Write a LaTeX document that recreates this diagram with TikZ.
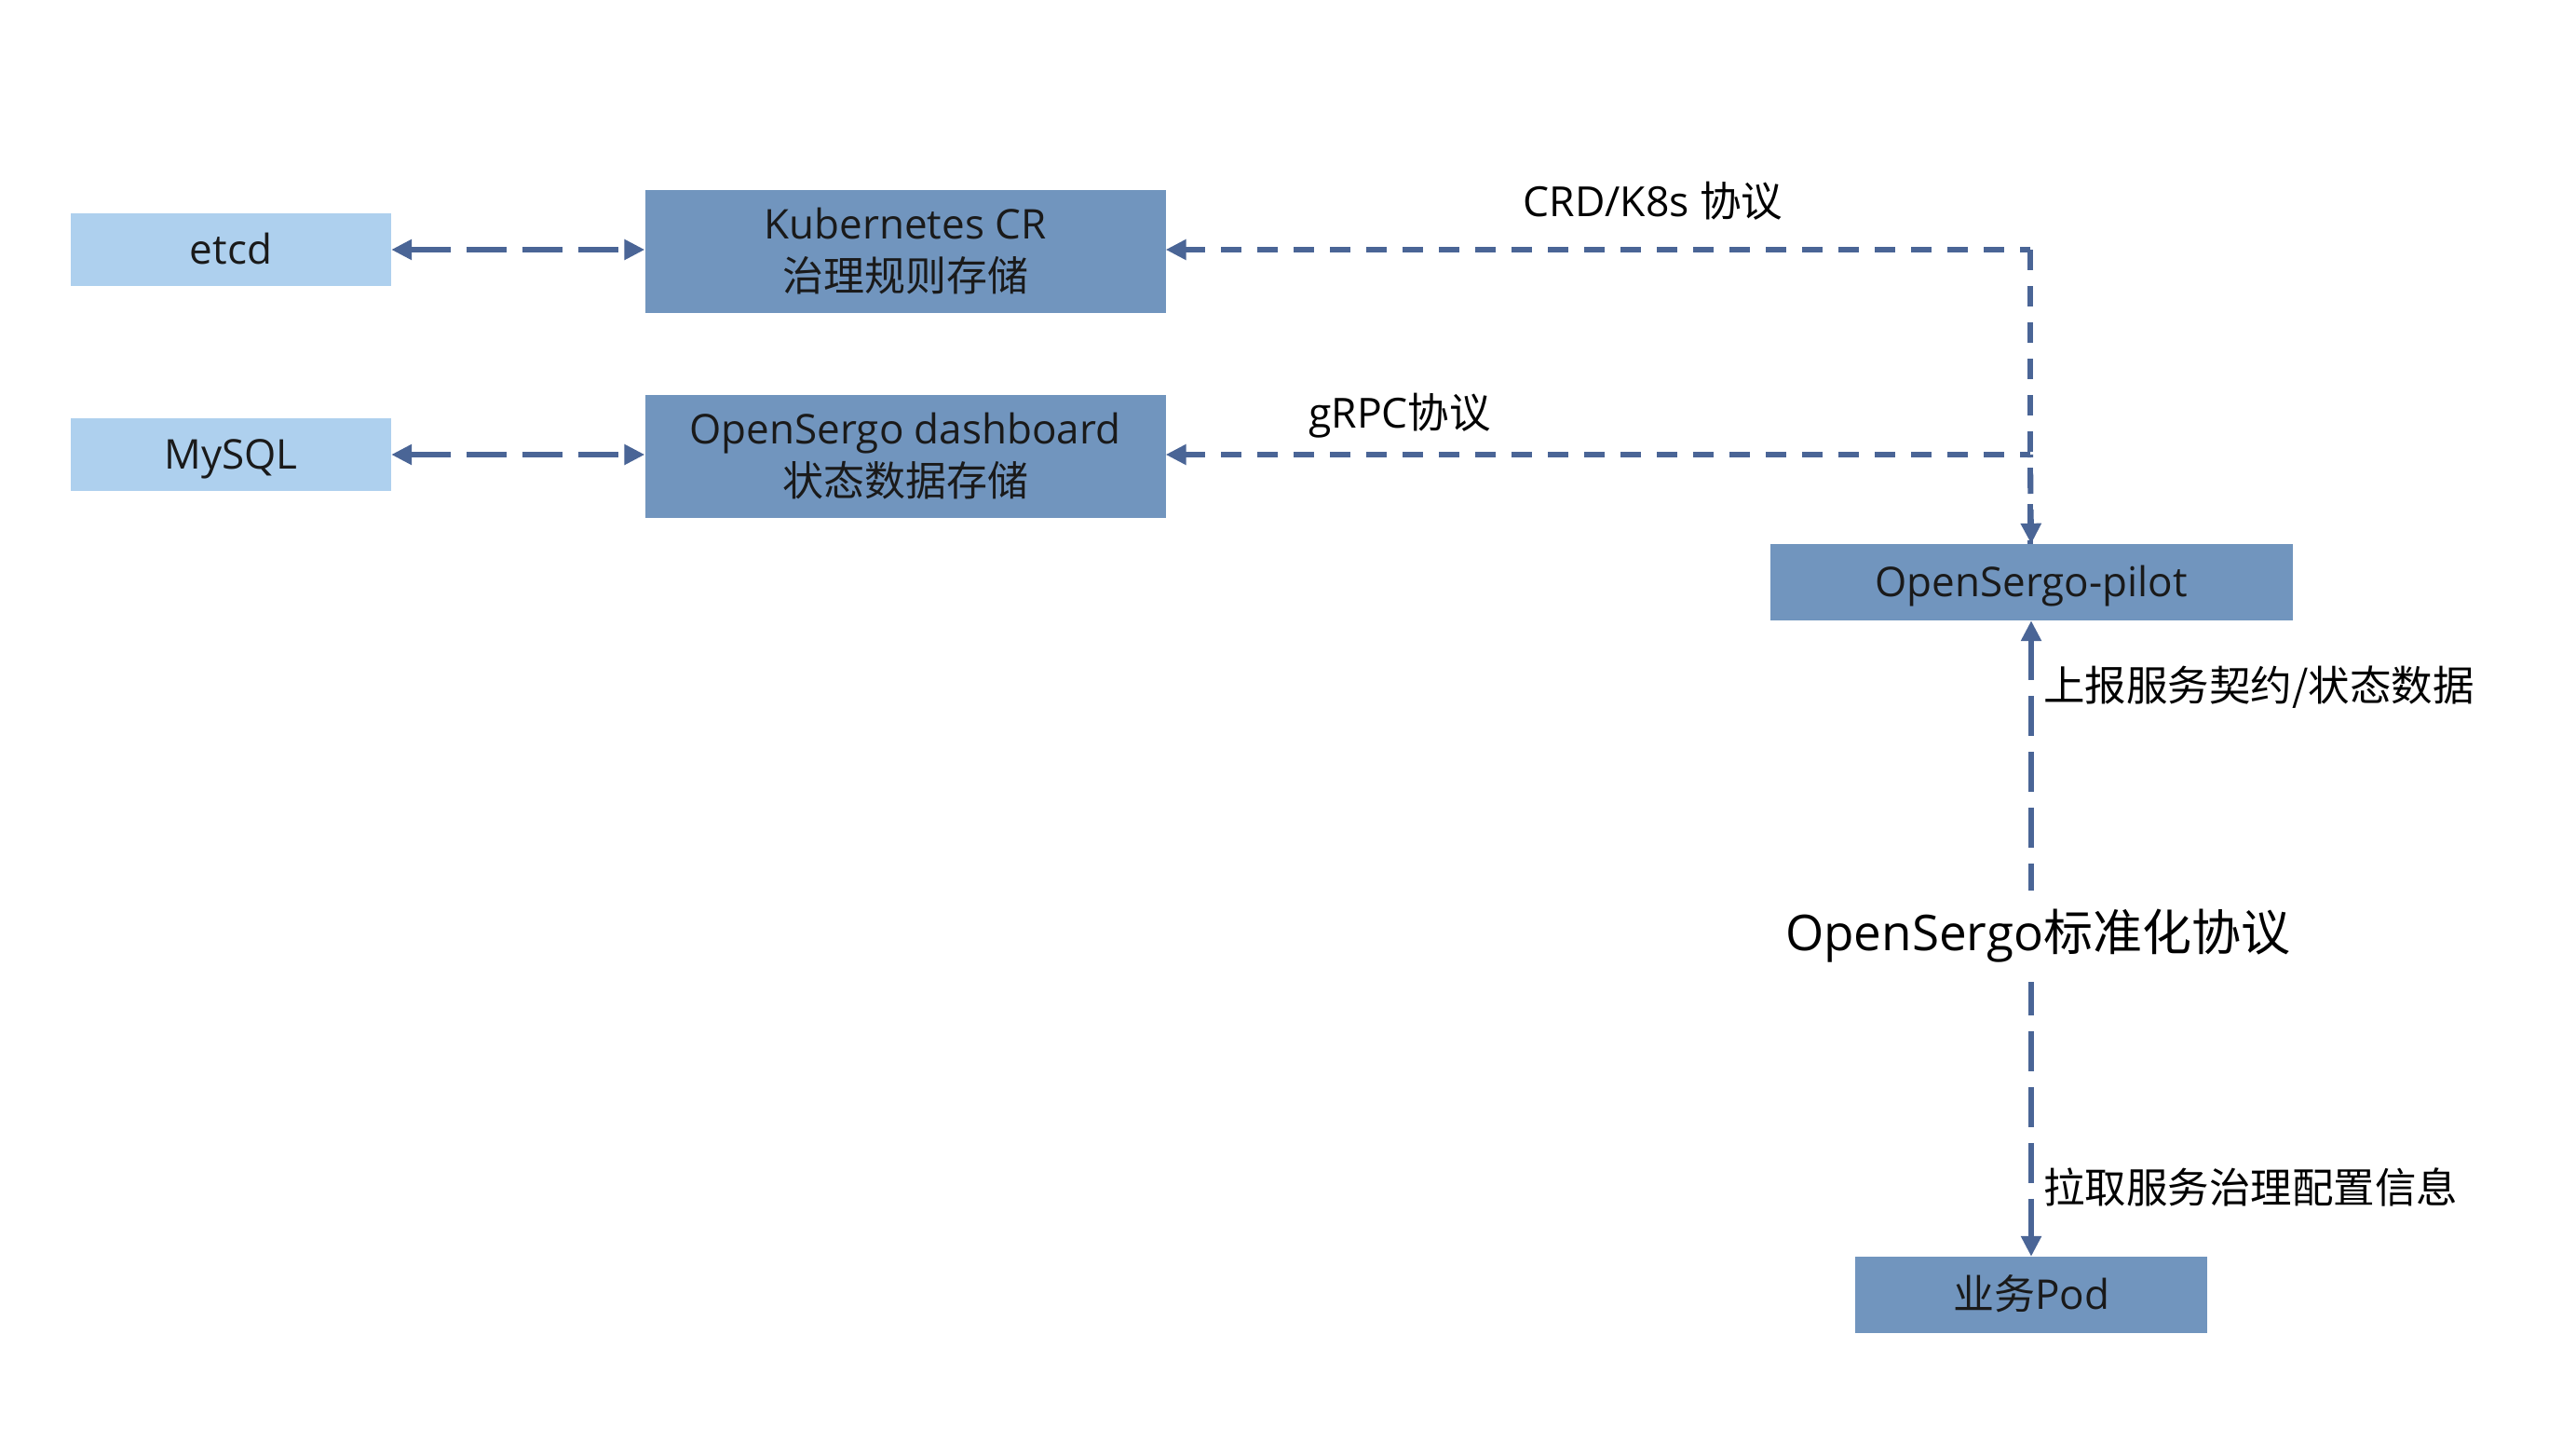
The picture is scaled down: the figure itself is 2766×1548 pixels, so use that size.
\documentclass[tikz,border=0pt]{standalone}
\usepackage{fontspec}
\setmainfont{Open Sans}
\newfontfamily\cjk{Noto Sans CJK SC}
\usetikzlibrary{arrows.meta}
\definecolor{lightbox}{RGB}{174,208,238}
\definecolor{darkbox}{RGB}{113,149,190}
\definecolor{arr}{RGB}{74,101,150}
\definecolor{txt}{RGB}{26,26,26}
\begin{document}
\begin{tikzpicture}[x=1pt,y=-1pt,
  box/.style={inner sep=0pt, align=center, text=txt, font=\fontsize{44}{56}\selectfont},
  oneline/.style={text height=31.4pt, text depth=0pt},
  lbox/.style={box, oneline, fill=lightbox},
  dbox/.style={box, fill=darkbox},
  longdash/.style={draw=arr, line width=6pt, dash pattern=on 43pt off 17pt},
  sqdash/.style={draw=arr, line width=6pt, dash pattern=on 22pt off 17pt},
  lbl/.style={text=black, font=\fontsize{44.5}{52}\selectfont, inner sep=0pt}
]
\useasboundingbox[fill=white] (0,0) rectangle (2766,1548);

% nodes
\node[lbox, minimum width=344pt, minimum height=78pt] (etcd) at (248,268) {etcd};
\node[dbox, minimum width=559pt, minimum height=132pt] (k8s) at (972,270) {Kubernetes CR\\{\cjk 治理规则存储}};
\node[lbox, minimum width=344pt, minimum height=78pt] (mysql) at (248,488) {MySQL};
\node[dbox, minimum width=559pt, minimum height=132pt] (dash) at (972,490) {OpenSergo dashboard\\{\cjk 状态数据存储}};
\node[dbox, oneline, minimum width=561pt, minimum height=82pt] (pilot) at (2181,625) {OpenSergo-pilot};
\node[dbox, oneline, minimum width=378pt, minimum height=82pt] (pod) at (2181,1390) {{\cjk 业务}Pod};

\coordinate (kc) at (2180,268);
\coordinate (dc) at (2180,488);

% connectors
\draw[longdash, {Triangle[length=22pt,width=21pt]}-{Triangle[length=22pt,width=21pt]}] (etcd.east) -- (etcd.east -| k8s.west);
\draw[longdash, {Triangle[length=22pt,width=21pt]}-{Triangle[length=22pt,width=21pt]}] (mysql.east) -- (mysql.east -| dash.west);

\draw[sqdash, {Triangle[length=22pt,width=21pt]}-] (k8s.east |- kc) -- (kc);
\draw[sqdash, {Triangle[length=22pt,width=21pt]}-] (dash.east |- dc) -- (dc);
\draw[sqdash] (kc) -- (kc |- pilot.north);
\draw[sqdash, dash phase=19pt, -{Triangle[length=22pt,width=21pt]}] (dc) -- (pilot.north);

\draw[longdash, {Triangle[length=22pt,width=21pt]}-{Triangle[length=22pt,width=21pt]}] (pilot.south) -- (pod.north);

% labels
\node[lbl] (l1) at (1775,216) {CRD/K8s {\cjk 协议}};
\node[lbl] (l2) at (1503,446) {gRPC{\cjk 协议}};
\node[lbl, anchor=west] (l3) at (2194,738) {\cjk 上报服务契约/状态数据};
\node[lbl, anchor=west] (l4) at (2194,1274) {\cjk 拉取服务治理配置信息};
\node[text=black, font=\fontsize{53}{60}\selectfont, fill=white, inner xsep=3pt, inner ysep=0pt, minimum height=98pt] (l5) at (2188,1005) {OpenSergo{\cjk 标准化协议}};
\end{tikzpicture}
\end{document}
